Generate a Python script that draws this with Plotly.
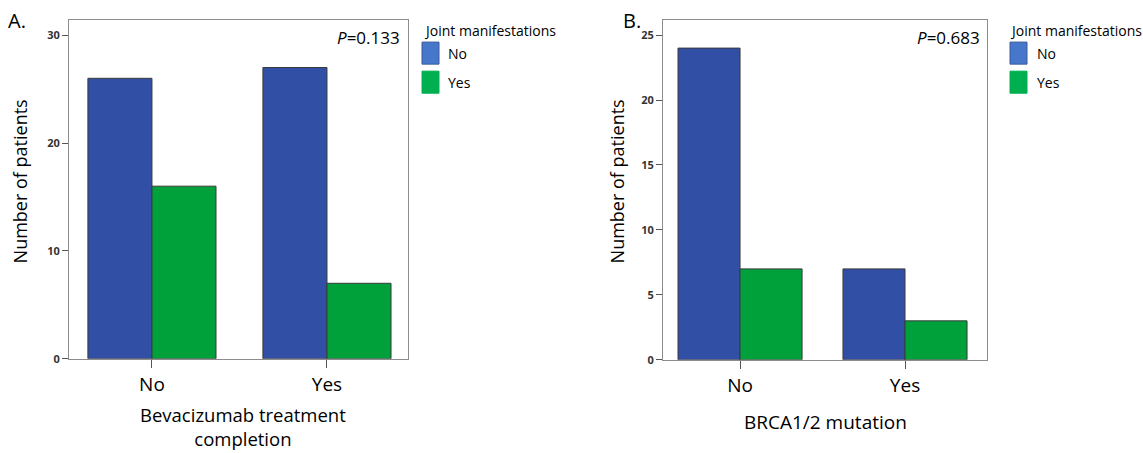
import plotly.graph_objects as go

W, H = 1143, 453
HE = 445  # effective rendered height used for placing elements

categories = ["No", "Yes"]
series_names = ["No", "Yes"]
a_no = [26, 27]
a_yes = [16, 7]
b_no = [24, 7]
b_yes = [7, 3]
a_yticks = [0, 10, 20, 30]
b_yticks = [0, 5, 10, 15, 20, 25]

BAR_BLUE = "#3150A5"
BAR_GREEN = "#00A13A"
LEG_BLUE = "#4677CB"
LEG_GREEN = "#00B050"
FONT = "Open Sans"

def px_x(x):
    return x / W

def px_y(y):
    return 1 - y / HE

fig = go.Figure()

wa = 0.366
wb = 0.376
for vals, col, name, off, xa, ya, w in [
    (a_no, BAR_BLUE, series_names[0], -1, "x", "y", wa),
    (a_yes, BAR_GREEN, series_names[1], 0, "x", "y", wa),
    (b_no, BAR_BLUE, series_names[0], -1, "x2", "y2", wb),
    (b_yes, BAR_GREEN, series_names[1], 0, "x2", "y2", wb),
]:
    fig.add_trace(go.Bar(
        x=categories, y=vals, name=name, xaxis=xa, yaxis=ya,
        marker=dict(color=col, line=dict(color="#3a3a3a", width=1)),
        width=w, offset=off * w, showlegend=False,
    ))

axis_common = dict(showline=True, mirror=True, linecolor="#8c8c8c", linewidth=1,
                   showgrid=False, zeroline=False, ticks="outside", tickcolor="#555")

fig.update_layout(
    width=W, height=H, autosize=False, margin=dict(l=0, r=0, t=0, b=0),
    plot_bgcolor="white", paper_bgcolor="white", barmode="overlay",
    font=dict(family=FONT, color="#000"),
    xaxis=dict(domain=[px_x(69), px_x(408)], type="category", range=[-0.474, 1.463],
               ticklen=8, ticklabelstandoff=0, tickfont=dict(size=19, family=FONT),
               anchor="y", **axis_common),
    yaxis=dict(domain=[px_y(358), px_y(20)], range=[0, 31.4], tickvals=a_yticks,
               ticklen=6, tickfont=dict(size=11, family=FONT, color="#333", weight="bold"),
               anchor="x", **axis_common),
    xaxis2=dict(domain=[px_x(663), px_x(987)], type="category", range=[-0.467, 1.497],
                ticklen=8, ticklabelstandoff=0, tickfont=dict(size=19, family=FONT),
                anchor="y2", **axis_common),
    yaxis2=dict(domain=[px_y(359), px_y(20)], range=[0, 26.16], tickvals=b_yticks,
                ticklen=6, tickfont=dict(size=11, family=FONT, color="#333", weight="bold"),
                anchor="x2", **axis_common),
)

ann = []
shapes = []
def text(x, y, s, size, xanchor="center", yanchor="middle", angle=0):
    ann.append(dict(x=px_x(x), y=px_y(y), xref="paper", yref="paper", text=s,
                    showarrow=False, xanchor=xanchor, yanchor=yanchor, textangle=angle,
                    font=dict(size=size, family=FONT, color="#000")))

# Panel labels
text(6, 20, "A.", 20, xanchor="left")
text(621, 20, "B.", 20, xanchor="left")
# Y titles
text(20, 181, "Number of patients", 18, angle=-90)
text(617, 181, "Number of patients", 18, angle=-90)
# X titles
text(243, 426, "Bevacizumab treatment<br>completion", 18.5)
text(825, 421, "BRCA1/2 mutation", 19)
# P values
text(402, 37, "<i>P</i>=0.133", 17, xanchor="right")
text(982, 37, "<i>P</i>=0.683", 17, xanchor="right")

# Legends
for lx, sx, tx in [(422, 422, 446), (1008, 1010, 1035)]:
    text(lx, 30, "Joint manifestations", 14, xanchor="left")
    for (y0, y1), col, lab in [((42, 64), LEG_BLUE, series_names[0]), ((71, 93), LEG_GREEN, series_names[1])]:
        shapes.append(dict(type="rect", xref="paper", yref="paper",
                           x0=px_x(sx), x1=px_x(sx + 17), y0=px_y(y1), y1=px_y(y0),
                           fillcolor=col, line=dict(color="#3a5a9a" if col == LEG_BLUE else col, width=1)))
        text(tx, (y0 + y1) / 2, lab, 14, xanchor="left")

fig.update_layout(annotations=ann, shapes=shapes)
fig.write_html("out.html", config={"responsive": False, "displayModeBar": False},
               post_script="document.body.style.margin='0';document.body.style.overflow='hidden';")
